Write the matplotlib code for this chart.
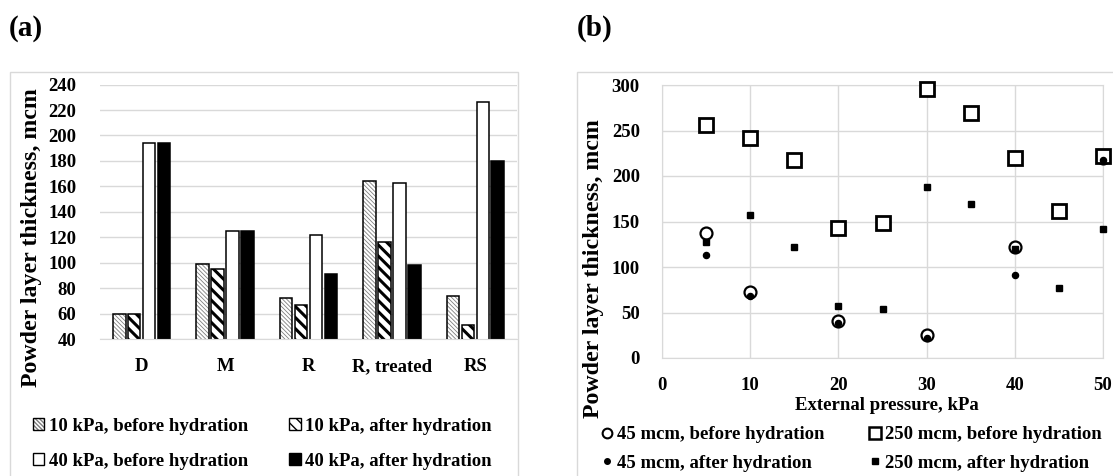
import numpy as np
import matplotlib
matplotlib.use("Agg")
import matplotlib.pyplot as plt
from matplotlib.patches import Patch, Rectangle
from matplotlib.lines import Line2D

plt.rcParams['font.family'] = ['Liberation Serif', 'DejaVu Serif']
plt.rcParams['font.weight'] = 'bold'

# (a) bar chart data
samples = ['D', 'M', 'R', 'R, treated', 'RS']
kpa10_before = [60, 99, 72, 164, 74]
kpa10_after = [60, 95, 67, 116, 51]
kpa40_before = [194, 125, 122, 163, 226]
kpa40_after = [194, 125, 91, 98, 180]

# (b) scatter data
pressure_45 = [5, 10, 20, 30, 40, 50]
mcm45_before = [137, 72, 41, 25, 122, 220]
mcm45_after = [113, 68, 38, 22, 91, 218]
pressure_250 = [5, 10, 15, 20, 25, 30, 35, 40, 45, 50]
mcm250_before = [256, 242, 218, 143, 148, 296, 269, 220, 162, 222]
mcm250_after = [127, 157, 122, 57, 54, 188, 169, 120, 77, 142]

GRID = '#d9d9d9'
W, H = 1113, 476
FS = 13.5

fig = plt.figure(figsize=(W / 100, H / 100), dpi=100)


def fx(px):
    return px / W


def fy(py):
    return 1 - py / H


def hatch_lw(patches, lw):
    for p in patches:
        if hasattr(p, 'set_hatch_linewidth'):
            p.set_hatch_linewidth(lw)


# panel frames
fig.patches.append(Rectangle((fx(10), fy(490)), fx(508), fy(72) - fy(490),
                             transform=fig.transFigure, fill=False, ec=GRID, lw=1))
fig.patches.append(Rectangle((fx(577), fy(490)), fx(560), fy(72) - fy(490),
                             transform=fig.transFigure, fill=False, ec=GRID, lw=1))
fig.text(fx(9), fy(28), '(a)', fontsize=21, ha='left', va='center')
fig.text(fx(577), fy(28), '(b)', fontsize=21, ha='left', va='center')

# ---- (a) ----
ax1 = fig.add_axes([fx(100), fy(339), fx(417), fy(84.6) - fy(339)])
x = np.arange(len(samples))
pitch = 0.179
bw = 0.15
fine = '\\' * 8
stripe = '\\' * 3

b1h = ax1.bar(x - 1.5 * pitch, kpa10_before, bw, color='white',
              edgecolor='#7f7f7f', hatch=fine, lw=0, zorder=2)
hatch_lw(b1h, 0.6)
ax1.bar(x - 1.5 * pitch, kpa10_before, bw, fill=False, edgecolor='black', lw=1.1, zorder=3)
b2 = ax1.bar(x - 0.5 * pitch, kpa10_after, bw, color='white', edgecolor='black',
             hatch=stripe, lw=1.1, zorder=2)
hatch_lw(b2, 2.2)
ax1.bar(x + 0.5 * pitch, kpa40_before, bw, color='white', edgecolor='black', lw=1.1, zorder=2)
ax1.bar(x + 1.5 * pitch, kpa40_after, bw, color='black', edgecolor='black', lw=1.1, zorder=2)

ax1.set_xlim(-0.5, 4.5)
ax1.set_ylim(40, 240)
ax1.set_yticks(np.arange(40, 241, 20))
ax1.set_xticks(x)
ax1.set_xticklabels(samples)
ax1.tick_params(length=0, labelsize=FS)
ax1.tick_params(axis='y', pad=17)
ax1.tick_params(axis='x', pad=14)
for s in ['left', 'right', 'top']:
    ax1.spines[s].set_visible(False)
ax1.spines['bottom'].set_color(GRID)
ax1.grid(axis='y', color=GRID, lw=1, zorder=0)
ax1.set_axisbelow(True)
fig.text(fx(32), fy(238), 'Powder layer thickness, mcm', rotation=90,
         fontsize=17.2, ha='center', va='center')

h1a = Patch(facecolor='white', edgecolor='#7f7f7f', hatch=fine, lw=0)
h1b = Patch(facecolor='none', edgecolor='black', lw=1)
hatch_lw([h1a], 0.6)
h2 = Patch(facecolor='white', edgecolor='black', hatch=stripe, lw=1)
hatch_lw([h2], 1.6)
h3 = Patch(facecolor='white', edgecolor='black', lw=1)
h4 = Patch(facecolor='black', edgecolor='black', lw=1)
leg1 = fig.legend([(h1a, h1b), h3, h2, h4],
                  ['10 kPa, before hydration', '40 kPa, before hydration',
                   '10 kPa, after hydration', '40 kPa, after hydration'],
                  ncol=2, loc='upper left', bbox_to_anchor=(fx(33), fy(418)),
                  frameon=False, fontsize=FS, handlelength=0.6, handleheight=0.6,
                  handletextpad=0.25, columnspacing=2.2, labelspacing=0.95,
                  borderpad=0, borderaxespad=0)

# ---- (b) ----
ax2 = fig.add_axes([fx(662), fy(358), fx(441), fy(85) - fy(358)])
ax2.plot(pressure_45, mcm45_before, 'o', ms=8.6, mfc='white', mec='black', mew=1.6,
         clip_on=False, zorder=3)
ax2.plot(pressure_250, mcm250_before, 's', ms=9.4, mfc='white', mec='black', mew=2,
         clip_on=False, zorder=3)
ax2.plot(pressure_45, mcm45_after, 'o', ms=4.4, color='black', clip_on=False, zorder=4)
ax2.plot(pressure_250, mcm250_after, 's', ms=4.6, color='black', clip_on=False, zorder=4)

ax2.set_xlim(0, 50)
ax2.set_ylim(0, 300)
ax2.set_xticks(np.arange(0, 51, 10))
ax2.set_yticks(np.arange(0, 301, 50))
ax2.tick_params(length=0, labelsize=FS)
ax2.tick_params(axis='y', pad=16)
ax2.tick_params(axis='x', pad=14)
for s in ax2.spines.values():
    s.set_color(GRID)
ax2.grid(True, color=GRID, lw=1, zorder=0)
ax2.set_axisbelow(True)
fig.text(fx(887), fy(406), 'External pressure, kPa', fontsize=FS, ha='center', va='center')
fig.text(fx(594), fy(269), 'Powder layer thickness, mcm', rotation=90,
         fontsize=17.2, ha='center', va='center')

g1 = Line2D([], [], ls='none', marker='o', ms=7, mfc='white', mec='black', mew=1.5)
g2 = Line2D([], [], ls='none', marker='o', ms=4, color='black')
g3 = Line2D([], [], ls='none', marker='s', ms=9, mfc='white', mec='black', mew=1.8)
g4 = Line2D([], [], ls='none', marker='s', ms=4.4, color='black')
leg2 = fig.legend([g1, g2, g3, g4],
                  ['45 mcm, before hydration', '45 mcm, after hydration',
                   '250 mcm, before hydration', '250 mcm, after hydration'],
                  ncol=2, loc='upper left', bbox_to_anchor=(fx(600), fy(426)),
                  frameon=False, fontsize=FS, handlelength=0.7,
                  handletextpad=0.2, columnspacing=2.35, labelspacing=0.6,
                  borderpad=0, borderaxespad=0)

fig.savefig('out.png', dpi=100)
